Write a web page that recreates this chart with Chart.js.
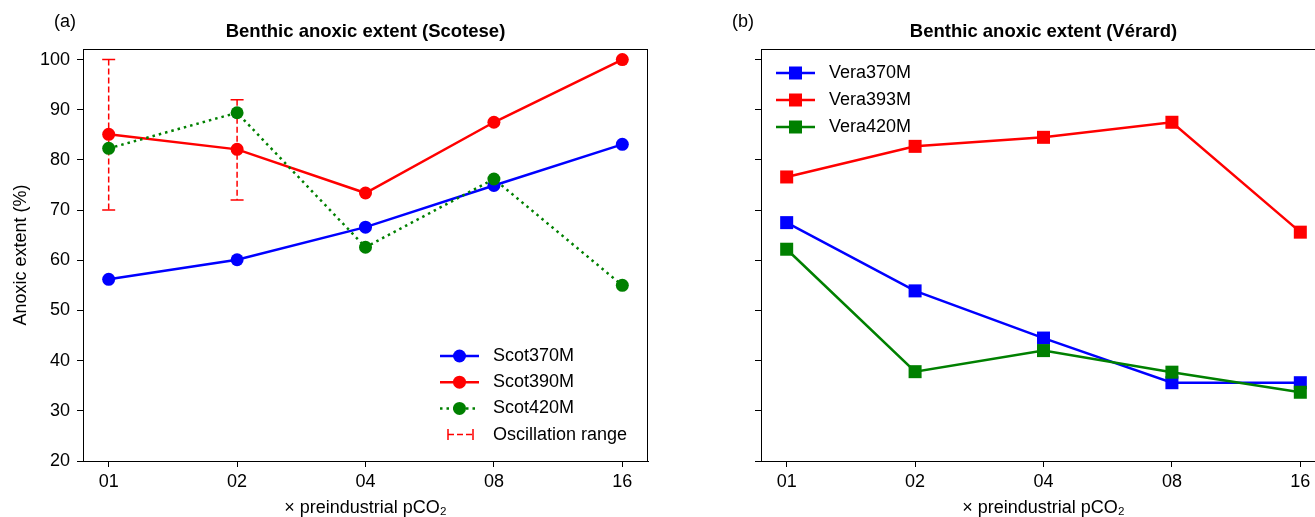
<!DOCTYPE html>
<html>
<head>
<meta charset="utf-8">
<script src="https://cdn.jsdelivr.net/npm/chart.js@4"></script>
<style>
  html, body { margin: 0; padding: 0; background: #fff; overflow: hidden; }
  #wrap { position: relative; width: 1315px; height: 517px; overflow: hidden; }
  #leftBox { position: absolute; left: 0; top: 0; width: 700px; height: 517px; }
  #rightBox { position: absolute; left: 700px; top: 0; width: 660px; height: 517px; }
</style>
</head>
<body>
<div id="wrap">
  <div id="leftBox"><canvas id="scotChart" width="700" height="517"></canvas></div>
  <div id="rightBox"><canvas id="veraChart" width="660" height="517"></canvas></div>
</div>
<script>
// data
const categories = ['01', '02', '04', '08', '16'];
const yTicks = [20, 30, 40, 50, 60, 70, 80, 90, 100];

const scot370 = [56.2, 60.1, 66.6, 74.9, 83.1];
const scot390 = [85.1, 82.1, 73.4, 87.5, 100];
const scot420 = [82.3, 89.4, 62.6, 76.2, 55.0];
const oscLow = [70, 72, null, null, null];
const oscHigh = [100, 92, null, null, null];

const vera370 = [67.5, 53.9, 44.5, 35.6, 35.6];
const vera393 = [76.6, 82.7, 84.5, 87.5, 65.6];
const vera420 = [62.2, 37.8, 42.0, 37.7, 33.7];

const FONT = "'Liberation Sans', Arial, sans-serif";
const FS = 18;
const BLUE = '#0000ff', RED = '#ff0000', GREEN = '#008000';

const pts = arr => arr.map((v, i) => ({ x: i, y: v }));

function drawMarker(ctx, style, x, y, color) {
  ctx.save();
  ctx.fillStyle = color;
  ctx.beginPath();
  if (style === 'rect') {
    ctx.rect(x - 6.5, y - 6.5, 13, 13);
  } else {
    ctx.arc(x, y, 6.5, 0, Math.PI * 2);
  }
  ctx.fill();
  ctx.restore();
}

function drawCapBar(ctx, x, y1, y2, cap) {
  ctx.save();
  ctx.strokeStyle = RED;
  ctx.lineWidth = 1.5;
  ctx.setLineDash([6, 3]);
  ctx.beginPath();
  ctx.moveTo(x, y1);
  ctx.lineTo(x, y2);
  ctx.stroke();
  ctx.setLineDash([]);
  ctx.beginPath();
  ctx.moveTo(x - cap, y1); ctx.lineTo(x + cap, y1);
  ctx.moveTo(x - cap, y2); ctx.lineTo(x + cap, y2);
  ctx.stroke();
  ctx.restore();
}

// panel label, title, frame, error bars and legend
const decoPlugin = {
  id: 'deco',
  beforeDatasetsDraw(chart, args, opts) {
    if (!opts.errLow) return;
    const xs = chart.scales.x, ys = chart.scales.y;
    opts.errLow.forEach((lo, i) => {
      const hi = opts.errHigh[i];
      if (lo == null || hi == null) return;
      drawCapBar(chart.ctx, xs.getPixelForValue(i), ys.getPixelForValue(hi), ys.getPixelForValue(lo), 6.5);
    });
  },
  afterDraw(chart, args, opts) {
    const ctx = chart.ctx, a = chart.chartArea;
    ctx.save();
    ctx.strokeStyle = '#000';
    ctx.lineWidth = 1;
    ctx.strokeRect(a.left + 0.5, a.top + 0.5, a.right - a.left - 1, a.bottom - a.top);
    ctx.fillStyle = '#000';
    ctx.textBaseline = 'middle';
    ctx.textAlign = 'center';
    ctx.font = FS + 'px ' + FONT;
    ctx.fillText(opts.panel, a.left - 18, 22);
    ctx.font = 'bold 18.5px ' + FONT;
    ctx.fillText(opts.title, (a.left + a.right) / 2, 32);

    const lg = opts.legend;
    ctx.font = FS + 'px ' + FONT;
    ctx.textAlign = 'left';
    chart.data.datasets.forEach((ds, i) => {
      const y = lg.y + i * lg.step;
      ctx.save();
      ctx.strokeStyle = ds.borderColor;
      ctx.lineWidth = 2.5;
      ctx.setLineDash(ds.borderDash || []);
      ctx.beginPath();
      ctx.moveTo(lg.x, y);
      ctx.lineTo(lg.x + 39, y);
      ctx.stroke();
      ctx.restore();
      drawMarker(ctx, ds.pointStyle, lg.x + 19.5, y, ds.backgroundColor);
      ctx.fillStyle = '#000';
      ctx.fillText(ds.label, lg.x + 53, y);
    });
    if (opts.errLabel) {
      const y = lg.y + chart.data.datasets.length * lg.step;
      const x0 = lg.x + 8, x1 = lg.x + 33;
      ctx.save();
      ctx.strokeStyle = RED;
      ctx.lineWidth = 1.5;
      ctx.setLineDash([6, 3]);
      ctx.beginPath();
      ctx.moveTo(x0, y); ctx.lineTo(x1, y);
      ctx.stroke();
      ctx.setLineDash([]);
      ctx.beginPath();
      ctx.moveTo(x0, y - 5.5); ctx.lineTo(x0, y + 5.5);
      ctx.moveTo(x1, y - 5.5); ctx.lineTo(x1, y + 5.5);
      ctx.stroke();
      ctx.restore();
      ctx.fillText(opts.errLabel, lg.x + 53, y);
    }
    ctx.restore();
  }
};

function lineSet(label, values, color, style, order, dash) {
  return {
    label: label,
    data: pts(values),
    borderColor: color,
    backgroundColor: color,
    borderWidth: 2.5,
    borderDash: dash || [],
    pointStyle: style,
    pointRadius: style === 'rect' ? 9.2 : 6.5,
    pointBorderWidth: 0,
    pointHoverRadius: 6.5,
    order: order,
    tension: 0
  };
}

function makeOptions(showYLabels, padRight, yWidth, deco) {
  return {
    responsive: false,
    animation: false,
    devicePixelRatio: 1,
    layout: { padding: { top: 49, right: padRight, left: 0, bottom: 0 } },
    plugins: { legend: { display: false }, tooltip: { enabled: false }, deco: deco },
    scales: {
      x: {
        type: 'linear',
        min: -0.2,
        max: 4.2,
        afterBuildTicks: s => { s.ticks = categories.map((c, i) => ({ value: i })); },
        afterFit: s => { s.height = 56; },
        ticks: {
          callback: v => categories[v],
          color: '#000',
          font: { family: FONT, size: FS },
          padding: 4,
          maxRotation: 0
        },
        grid: { drawOnChartArea: false, tickLength: 6, color: '#000' },
        border: { color: '#000', width: 1 },
        title: {
          display: true,
          text: '× preindustrial pCO₂',
          color: '#000',
          font: { family: FONT, size: FS },
          padding: { top: 0, bottom: -2 }
        }
      },
      y: {
        min: 20,
        max: 102.1,
        afterBuildTicks: s => { s.ticks = yTicks.map(v => ({ value: v })); },
        afterFit: s => { s.width = yWidth; },
        ticks: {
          callback: v => showYLabels ? String(v) : '',
          color: '#000',
          font: { family: FONT, size: FS },
          padding: 7
        },
        grid: { drawOnChartArea: false, tickLength: 6, color: '#000' },
        border: { color: '#000', width: 1 },
        title: {
          display: showYLabels,
          text: 'Anoxic extent (%)',
          color: '#000',
          font: { family: FONT, size: FS },
          padding: { top: 10, bottom: 0 }
        }
      }
    }
  };
}

Chart.register(decoPlugin);

// Panel (a): Scotese
new Chart(document.getElementById('scotChart'), {
  type: 'line',
  data: {
    datasets: [
      lineSet('Scot370M', scot370, BLUE, 'circle', 3),
      lineSet('Scot390M', scot390, RED, 'circle', 2),
      lineSet('Scot420M', scot420, GREEN, 'circle', 1, [2.5, 4])
    ]
  },
  options: makeOptions(true, 52, 83, {
    panel: '(a)',
    title: 'Benthic anoxic extent (Scotese)',
    errLow: oscLow,
    errHigh: oscHigh,
    errLabel: 'Oscillation range',
    legend: { x: 440, y: 356, step: 26.2 }
  })
});

// Panel (b): Vérard
new Chart(document.getElementById('veraChart'), {
  type: 'line',
  data: {
    datasets: [
      lineSet('Vera370M', vera370, BLUE, 'rect', 3),
      lineSet('Vera393M', vera393, RED, 'rect', 2),
      lineSet('Vera420M', vera420, GREEN, 'rect', 1)
    ]
  },
  options: makeOptions(false, 660 - 626, 61, {
    panel: '(b)',
    title: 'Benthic anoxic extent (Vérard)',
    legend: { x: 76, y: 73, step: 27 }
  })
});
</script>
</body>
</html>
